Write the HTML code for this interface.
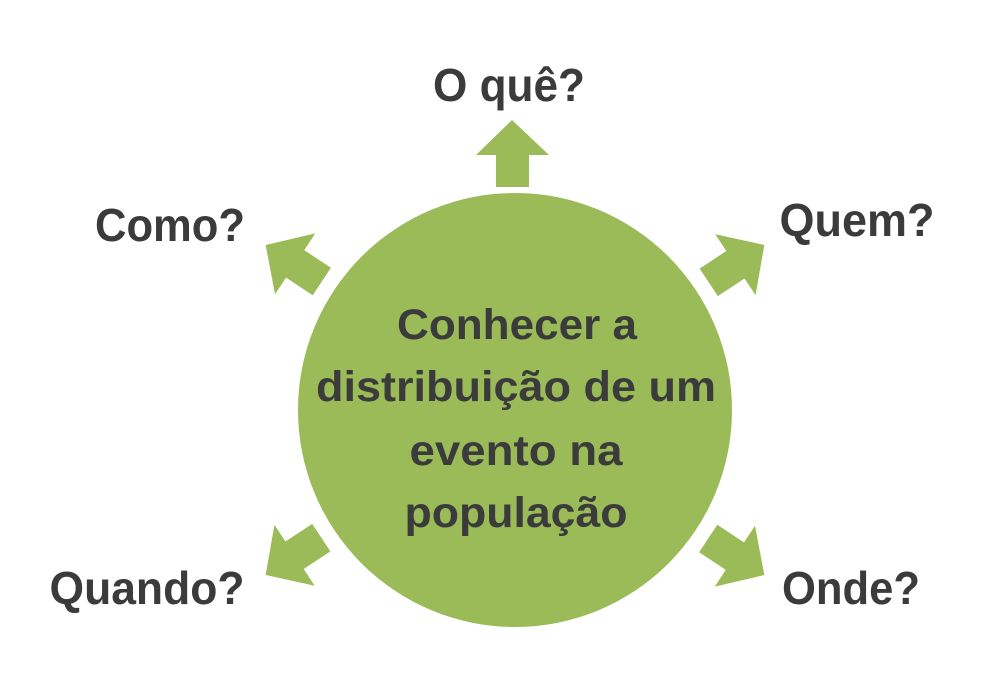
<!DOCTYPE html>
<html><head><style>
body{margin:0;background:#fff;}
svg text{font-family:"Liberation Sans",sans-serif;font-weight:bold;fill:#3b3b3b;}
</style></head><body>
<svg width="1000" height="680" viewBox="0 0 1000 680">
<circle cx="515" cy="410" r="217" fill="#9bbb59"/>
<g fill="#9bbb59">
<path d="M512 120 L549 155 L529 155 L529 187 L496 187 L496 155 L476 155 Z"/>
<g transform="rotate(-56.5 515 410)"><path d="M515 111 L552 146 L532 146 L532 178 L499 178 L499 146 L479 146 Z"/></g>
<g transform="rotate(56.5 515 410)"><path d="M515 111 L552 146 L532 146 L532 178 L499 178 L499 146 L479 146 Z"/></g>
<g transform="rotate(123.5 515 410)"><path d="M515 111 L552 146 L532 146 L532 178 L499 178 L499 146 L479 146 Z"/></g>
<g transform="rotate(-123.5 515 410)"><path d="M515 111 L552 146 L532 146 L532 178 L499 178 L499 146 L479 146 Z"/></g>
</g>
<g font-size="46">
<text x="509" y="101" text-anchor="middle" textLength="152" lengthAdjust="spacingAndGlyphs">O quê?</text>
<text x="170" y="241" text-anchor="middle" textLength="150" lengthAdjust="spacingAndGlyphs">Como?</text>
<text x="857" y="236" text-anchor="middle" textLength="155" lengthAdjust="spacingAndGlyphs">Quem?</text>
<text x="147" y="604" text-anchor="middle" textLength="195" lengthAdjust="spacingAndGlyphs">Quando?</text>
<text x="851" y="604" text-anchor="middle" textLength="138" lengthAdjust="spacingAndGlyphs">Onde?</text>
</g>
<g font-size="43" text-anchor="middle">
<text x="517" y="339" textLength="240" lengthAdjust="spacingAndGlyphs">Conhecer a</text>
<text x="516" y="401" textLength="400" lengthAdjust="spacingAndGlyphs">distribuição de um</text>
<text x="516" y="465" textLength="213" lengthAdjust="spacingAndGlyphs">evento na</text>
<text x="516" y="527" textLength="223" lengthAdjust="spacingAndGlyphs">população</text>
</g>
</svg>
</body></html>
